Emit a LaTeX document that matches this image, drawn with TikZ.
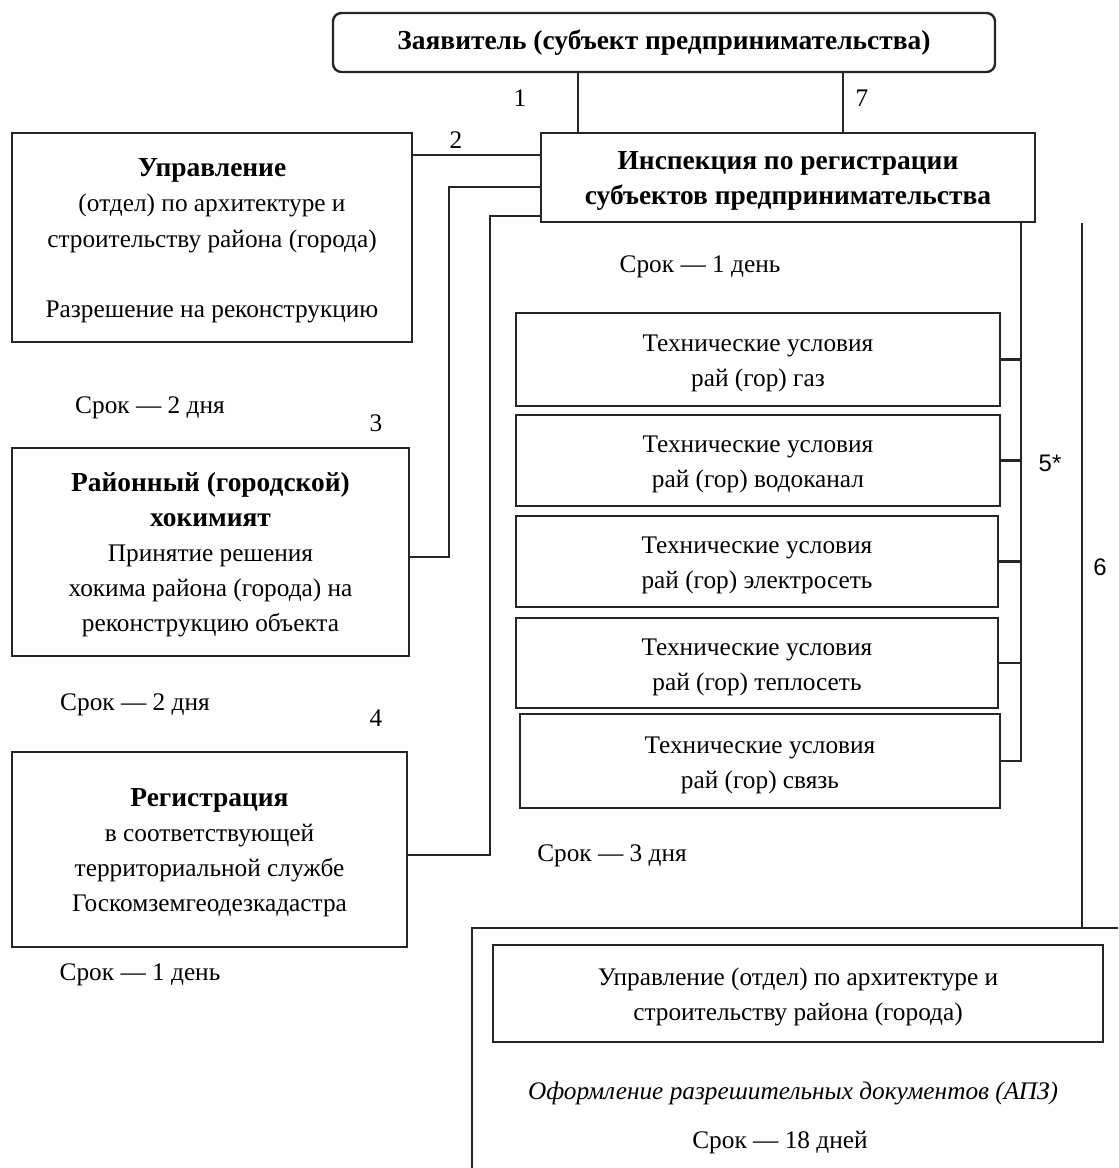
\documentclass[tikz,border=0pt]{standalone}
\usepackage{fontspec}
\setmainfont{Liberation Serif}
\setsansfont{Liberation Sans}

\newcommand{\gras}[1]{{\fontsize{19.5}{25}\selectfont\bfseries #1}}

\begin{document}
\begin{tikzpicture}[x=0.025cm, y=-0.025cm]
	\tikzset{bloc/.style={draw=black!85, line width=1.7pt, align=center, inner sep=0pt, font=\fontsize{18}{25}\selectfont},
		ligne/.style={draw=black!85, line width=1.9pt},
		texte/.style={font=\fontsize{18}{25}\selectfont, inner sep=0pt},
		numero/.style={font=\fontsize{18}{22}\selectfont, inner sep=0pt}};

	\useasboundingbox (0,0) rectangle (1118,1168);

	\node[bloc, rounded corners=6pt, minimum width=662*0.025cm, minimum height=59*0.025cm] (zayav) at (664, 42.5) {\strut\gras{Заявитель (субъект предпринимательства)}};
	\node[bloc, minimum width=494*0.025cm, minimum height=89*0.025cm] (insp) at (788, 177.5) {\strut\gras{Инспекция по регистрации}\\\gras{субъектов предпринимательства}};

	\node[bloc, minimum width=400*0.025cm, minimum height=209*0.025cm] (upr) at (212, 237.5) {\strut\gras{Управление}\\(отдел) по архитектуре и\\строительству района (города)\\[25pt]Разрешение на реконструкцию};
	\node[bloc, minimum width=397*0.025cm, minimum height=208*0.025cm] (raion) at (210.5, 552) {\strut\gras{Районный (городской)}\\\gras{хокимият}\\Принятие решения\\хокима района (города) на\\реконструкцию объекта};
	\node[bloc, minimum width=395*0.025cm, minimum height=195*0.025cm] (reg) at (209.5, 849.5) {\strut\gras{Регистрация}\\в соответствующей\\территориальной службе\\Госкомземгеодезкадастра};

	\node[bloc, minimum width=484*0.025cm, minimum height=93*0.025cm] (tu1) at (758, 359.5) {\strut Технические условия\\рай (гор) газ};
	\node[bloc, minimum width=484*0.025cm, minimum height=91*0.025cm] (tu2) at (758, 460.5) {\strut Технические условия\\рай (гор) водоканал};
	\node[bloc, minimum width=482*0.025cm, minimum height=91*0.025cm] (tu3) at (757, 561.5) {\strut Технические условия\\рай (гор) электросеть};
	\node[bloc, minimum width=482*0.025cm, minimum height=90*0.025cm] (tu4) at (757, 663) {\strut Технические условия\\рай (гор) теплосеть};
	\node[bloc, minimum width=480*0.025cm, minimum height=94*0.025cm] (tu5) at (760, 761) {\strut Технические условия\\рай (гор) связь};

	\node[bloc, minimum width=610*0.025cm, minimum height=97*0.025cm] (upr2) at (798, 993.5) {\strut Управление (отдел) по архитектуре и\\строительству района (города)};

	% cadre du bas
	\coordinate (cadre) at (472, 928);
	\draw[ligne] (cadre |- 0,1168) -- (cadre) -- (1118, 928);

	% textes
	\node[texte] (srok1) at (700, 267) {Срок — 1 день};
	\node[texte] (srok2) at (150, 408) {Срок — 2 дня};
	\node[texte] (srok3) at (135, 705) {Срок — 2 дня};
	\node[texte] (srok4) at (612, 856) {Срок — 3 дня};
	\node[texte] (srok5) at (140, 975) {Срок — 1 день};
	\node[texte] (apz) at (793, 1093) {\textit{Оформление разрешительных документов (АПЗ)}};
	\node[texte] (srok6) at (780, 1143) {Срок — 18 дней};

	% liaisons
	\draw[ligne] (zayav.south -| 578,0) -- (insp.north -| 578,0);
	\draw[ligne] (zayav.south -| 843,0) -- (insp.north -| 843,0);
	\draw[ligne] (upr.east |- 0,155) -- (insp.west |- 0,155);
	\draw[ligne] (raion.east |- 0,557) -| (449, 187) -- (insp.west |- 0,187);
	\draw[ligne] (reg.east |- 0,855) -| (490, 216) -- (insp.west |- 0,216);
	\draw[ligne] (insp.south -| 1021,0) |- (tu5.east);
	\foreach \t in {tu1, tu2, tu3, tu4}
		\draw[ligne] (\t.east) -- (\t.east -| 1021,0);
	\draw[ligne] (insp.south -| 1082,0) -- (cadre -| 1082,0);

	\node[numero] (n1) at (520, 98) {1};
	\node[numero] (n7) at (862, 98) {7};
	\node[numero] (n2) at (456, 140) {2};
	\node[numero] (n3) at (376, 423) {3};
	\node[numero] (n4) at (376, 718) {4};
	\node[numero, font=\sffamily\fontsize{17}{20}\selectfont] (n5) at (1050, 463) {5*};
	\node[numero, font=\sffamily\fontsize{17}{20}\selectfont] (n6) at (1100, 567) {6};

\end{tikzpicture}
\end{document}
